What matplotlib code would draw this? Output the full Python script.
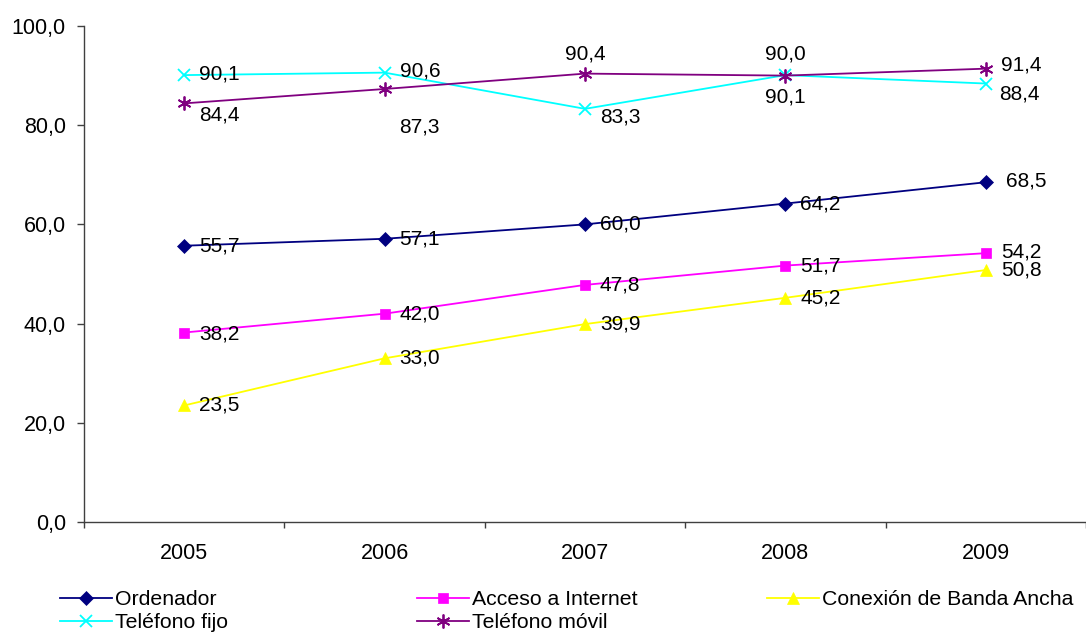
import matplotlib.pyplot as plt
import numpy as np

plt.rcParams['font.family'] = ['Liberation Sans', 'DejaVu Sans']

years = ['2005', '2006', '2007', '2008', '2009']
ordenador = [55.7, 57.1, 60.0, 64.2, 68.5]
internet = [38.2, 42.0, 47.8, 51.7, 54.2]
banda_ancha = [23.5, 33.0, 39.9, 45.2, 50.8]
fijo = [90.1, 90.6, 83.3, 90.1, 88.4]
movil = [84.4, 87.3, 90.4, 90.0, 91.4]

# (name, values, colour, marker, marker size, label offsets in px, alignment)
series = [
    ('Ordenador', ordenador, '#000080', 'D', 7.5,
     [(15, 0, 'left')] * 4 + [(20, 1, 'left')]),
    ('Acceso a Internet', internet, '#FF00FF', 's', 6.5,
     [(15, -1, 'left'), (15, 0, 'left'), (15, 0, 'left'), (15, 0, 'left'), (15, 1, 'left')]),
    ('Conexión de Banda Ancha', banda_ancha, '#FFFF00', '^', 8,
     [(15, 0, 'left')] * 5),
    ('Teléfono fijo', fijo, '#00FFFF', 'x', 8.5,
     [(15, 1, 'left'), (15, 2, 'left'), (15, -8, 'left'), (0, -22, 'center'), (13, -10, 'left')]),
    ('Teléfono móvil', movil, '#800080', (6, 2, 0), 10,
     [(15, -12, 'left'), (15, -38, 'left'), (0, 20, 'center'), (0, 22, 'center'), (15, 4, 'left')]),
]

fig = plt.figure(figsize=(10.86, 6.34), dpi=100)
ax = fig.add_axes([84 / 1086, 1 - 522 / 634, 1 - 84 / 1086, 496 / 634])

x = np.arange(len(years))
handles = []
for name, vals, col, mk, ms, offs in series:
    h, = ax.plot(x, vals, color=col, marker=mk, markersize=ms, linewidth=1.3,
                 markeredgewidth=1.3 if mk in ('x', (6, 2, 0)) else 0.5,
                 markeredgecolor=col, label=name, clip_on=False)
    handles.append(h)
    for xi, v, (dx, dy, ha) in zip(x, vals, offs):
        ax.annotate(f'{v:.1f}'.replace('.', ','), (xi, v), xytext=(dx, dy),
                    textcoords='offset pixels', ha=ha, va='center', fontsize=15)

ax.set_xlim(-0.5, len(years) - 0.5)
ax.set_ylim(0, 100)
ax.set_yticks(np.arange(0, 101, 20))
ax.set_yticklabels([f'{t:.1f}'.replace('.', ',') for t in np.arange(0, 101, 20)], fontsize=15.5)
ax.set_xticks(x)
ax.set_xticklabels(years, fontsize=15.5)
ax.set_xticks(np.arange(-0.5, len(years), 1), minor=True)
ax.tick_params(axis='x', which='major', length=0, pad=15)
ax.tick_params(axis='x', which='minor', length=4.5, width=1, color='#404040')
ax.tick_params(axis='y', length=5, width=1, color='#404040', pad=8)
for s in ('top', 'right'):
    ax.spines[s].set_visible(False)
for s in ('left', 'bottom'):
    ax.spines[s].set_color('#404040')
    ax.spines[s].set_linewidth(1)

# legend laid out like Excel: three columns, row-major order
leg_cols = [(60, [handles[0], handles[3]]), (417, [handles[1], handles[4]]), (767, [handles[2]])]
for px, hs in leg_cols:
    fig.legend(handles=hs, loc='upper left', bbox_to_anchor=(px / 1086, 1 - 590 / 634),
               frameon=False, handlelength=2.45, handletextpad=0.15,
               labelspacing=0.2, borderaxespad=0, borderpad=0,
               prop={'family': ['Liberation Sans'], 'size': 15.3})

fig.savefig('out.png', dpi=100)
